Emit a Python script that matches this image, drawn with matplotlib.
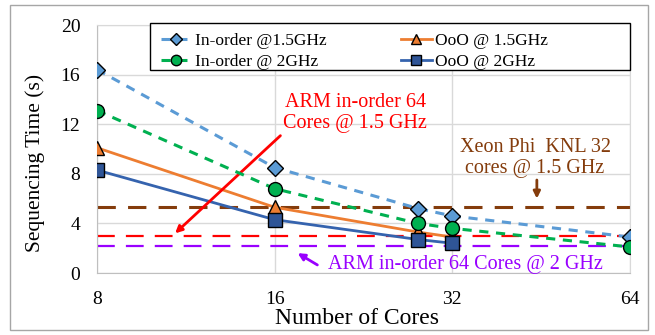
import matplotlib.pyplot as plt
from matplotlib.patches import Rectangle

plt.rcParams['font.family'] = ['Liberation Serif', 'DejaVu Serif']

cores = [8, 16, 28, 32, 64]
inorder_15 = [16.4, 8.5, 5.2, 4.6, 2.9]
inorder_2 = [13.1, 6.8, 4.0, 3.6, 2.1]
ooo_cores = [8, 16, 28, 32]
ooo_15 = [10.1, 5.3, 3.3, 2.9]
ooo_2 = [8.3, 4.3, 2.7, 2.4]

# reference lines
knl_32 = 5.3
arm_64_15 = 3.0
arm_64_2 = 2.2

xticks = [8, 16, 32, 64]
yticks = [0, 4, 8, 12, 16, 20]

fig = plt.figure(figsize=(6.55, 3.35), dpi=100)
ax = fig.add_axes([97/655, 1 - 273/335, 533/655, 248/335])

# outer frame
fig.patches.append(Rectangle((10/655, 5/335), 638/655, 325/335, transform=fig.transFigure,
                             fill=False, edgecolor='#a6a6a6', linewidth=1.0))

ax.axhline(knl_32, color='#843C0C', lw=2.2, ls=(0, (6, 4)), zorder=2)
ax.axhline(arm_64_15, color='#FF0000', lw=1.6, ls=(0, (8, 5)), zorder=2)
ax.axhline(arm_64_2, color='#9900FF', lw=1.6, ls=(0, (8, 5)), zorder=2)

l1, = ax.plot(cores, inorder_15, color='#5B9BD5', lw=2.2, ls=(0, (3, 2.5)), marker='D',
              ms=8, mfc='#5B9BD5', mec='black', mew=1.0, label='In-order @1.5GHz', zorder=4)
l2, = ax.plot(ooo_cores, ooo_15, color='#ED7D31', lw=2.0, marker='^',
              ms=10, mfc='#ED7D31', mec='black', mew=1.0, label='OoO @ 1.5GHz', zorder=3)
l3, = ax.plot(cores, inorder_2, color='#00B050', lw=2.2, ls=(0, (3, 2.5)), marker='o',
              ms=10, mfc='#00B050', mec='black', mew=1.0, label='In-order @ 2GHz', zorder=4)
l4, = ax.plot(ooo_cores, ooo_2, color='#3563AE', lw=2.0, marker='s',
              ms=10, mfc='#2F5597', mec='black', mew=1.0, label='OoO @ 2GHz', zorder=3)

ax.set_xscale('log', base=2)
ax.set_xlim(8, 64)
ax.set_ylim(0, 20)
ax.set_xticks(xticks)
ax.set_xticklabels([str(t) for t in xticks])
ax.minorticks_off()
ax.set_yticks(yticks)
ax.tick_params(axis='x', length=0, pad=13, labelsize=14)
ax.tick_params(axis='y', length=0, pad=12, labelsize=14)
ax.grid(True, color='#d9d9d9', lw=1.0)
ax.set_axisbelow(True)
for s in ax.spines.values():
    s.set_color('#d9d9d9')
ax.spines['left'].set_color('#bfbfbf')
ax.spines['bottom'].set_color('#bfbfbf')

ax.set_xlabel('Number of Cores', fontsize=17)
ax.set_ylabel('Sequencing Time (s)', fontsize=15.5)
ax.xaxis.set_label_coords(0.488, -0.142)
ax.yaxis.set_label_coords(-0.097, 0.444)

ax.annotate('ARM in-order 64\nCores @ 1.5 GHz', xy=(10.85, 3.2), xytext=(21.9, 12.9),
            color='#FF0000', fontsize=14.5, ha='center', va='center', linespacing=1.15,
            arrowprops=dict(arrowstyle='-|>', color='#FF0000', lw=2, shrinkA=0, shrinkB=0,
                            mutation_scale=10, relpos=(0.0, 0.0)))
ax.text(44.2, 9.25, 'Xeon Phi  KNL 32\ncores @ 1.5 GHz', color='#843C0C', fontsize=14.5,
        ha='center', va='center', linespacing=1.15)
ax.annotate('', xy=(44.5, 6.0), xytext=(44.5, 7.5),
            arrowprops=dict(arrowstyle='-|>', color='#843C0C', lw=2, shrinkA=0, shrinkB=0,
                            mutation_scale=10))
ax.text(33.7, 0.65, 'ARM in-order 64 Cores @ 2 GHz', color='#9900FF', fontsize=14.5,
        ha='center', va='center')
ax.annotate('', xy=(17.5, 1.6), xytext=(18.9, 0.65),
            arrowprops=dict(arrowstyle='-|>', color='#9900FF', lw=2, shrinkA=0, shrinkB=0,
                            mutation_scale=10))

# legend frame drawn separately so it can span past the entries
ax.add_patch(Rectangle((150/655, 1 - 70/335), 480/655, 47/335, transform=fig.transFigure,
                       fill=True, facecolor='white', edgecolor='black', linewidth=1.0,
                       clip_on=False, zorder=5))
leg = ax.legend([l1, l3, l2, l4], [l1.get_label(), l3.get_label(), l2.get_label(), l4.get_label()],
                ncol=2, loc='upper left', bbox_to_anchor=(152/655, 1 - 24/335),
                bbox_transform=fig.transFigure, fontsize=12.5, frameon=False,
                handlelength=1.8, handletextpad=0.15, columnspacing=4.3,
                borderpad=0, labelspacing=0.3, markerscale=0.75)
leg.set_zorder(6)

fig.savefig('out.png', dpi=100)
